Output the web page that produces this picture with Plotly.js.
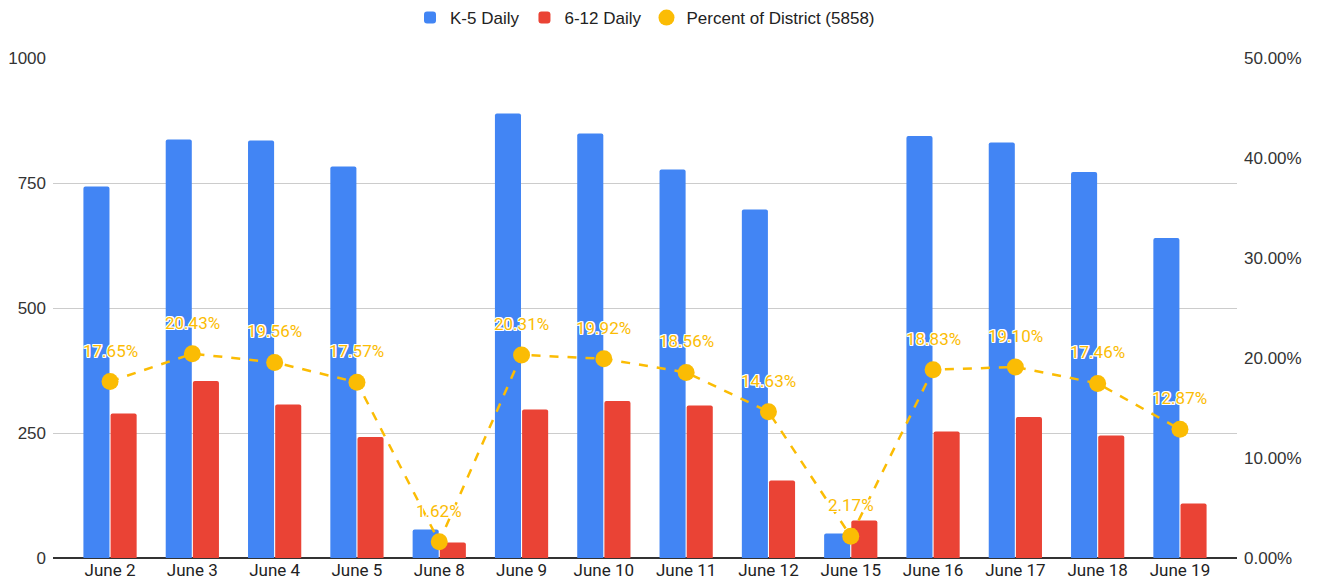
<!DOCTYPE html>
<html>
<head>
<meta charset="utf-8">
<script src="https://cdn.plot.ly/plotly-3.0.1.min.js"></script>
<style>html,body{margin:0;padding:0;background:#fff;}#chart{width:1317px;height:587px;}</style>
</head>
<body>
<div id="chart"></div>
<script>
const categories = ["June 2","June 3","June 4","June 5","June 8","June 9","June 10","June 11","June 12","June 15","June 16","June 17","June 18","June 19"];
const k5Daily = [743, 837, 835, 783, 57, 889, 849, 777, 697, 49, 844, 831, 772, 640];
const g612Daily = [289, 354, 307, 242, 31, 297, 314, 305, 155, 75, 253, 282, 245, 109];
const percentOfDistrict = [0.1765, 0.2043, 0.1956, 0.1757, 0.0162, 0.2031, 0.1992, 0.1856, 0.1463, 0.0217, 0.1883, 0.1910, 0.1746, 0.1287];
const leftTicks = [0, 250, 500, 750, 1000];
const rightTicks = [0, 0.1, 0.2, 0.3, 0.4, 0.5];

const BLUE = '#4285f4', RED = '#ea4335', YELLOW = '#fbbc04';
const FONT = 'Arial, "Liberation Sans", sans-serif';

const traces = [
  {type:'bar', name:'K-5 Daily', x:categories, y:k5Daily, marker:{color:BLUE}, hoverinfo:'skip'},
  {type:'bar', name:'6-12 Daily', x:categories, y:g612Daily, marker:{color:RED}, hoverinfo:'skip'},
  {type:'scatter', mode:'lines', name:'Percent line', x:categories, y:percentOfDistrict, yaxis:'y2',
   line:{color:YELLOW, width:2.5, dash:'dash'}, showlegend:false, hoverinfo:'skip'},
  {type:'scatter', mode:'markers', name:'Percent of District (5858)', x:categories, y:percentOfDistrict, yaxis:'y2',
   marker:{color:YELLOW, size:17}, hoverinfo:'skip'}
];

const halo = '1px 1px 0 #fff, -1px -1px 0 #fff, 1px -1px 0 #fff, -1px 1px 0 #fff, 0 1px 0 #fff, 0 -1px 0 #fff, 1px 0 0 #fff, -1px 0 0 #fff';
const annotations = categories.map((c, i) => ({
  x: c, y: percentOfDistrict[i], xref:'x', yref:'y2',
  text: (percentOfDistrict[i]*100).toFixed(2) + '%',
  showarrow:false, yshift:31,
  font:{family:'Roboto, Arial, sans-serif', size:17, color:YELLOW, shadow: halo}
}));

const layout = {
  width:1317, height:587,
  margin:{l:53, r:80, t:58, b:29},
  paper_bgcolor:'#fff', plot_bgcolor:'#fff',
  font:{family:FONT, size:17, color:'#333'},
  barmode:'group', bargap:0.34, bargroupgap:0.04, barcornerradius:2,
  showlegend:true,
  legend:{orientation:'h', x:0.5, xanchor:'center', y:1.0, yref:'container', yanchor:'top',
          font:{family:FONT, size:17, color:'#222'}, itemwidth:30, traceorder:'normal'},
  xaxis:{type:'category', range:[-0.693, 13.693], showgrid:false, showline:false, zeroline:false,
         ticks:'', tickfont:{family:'Roboto, Arial, sans-serif', size:17, color:'#222'}, fixedrange:true},
  yaxis:{range:[0,1000], tickvals:leftTicks, showgrid:true, gridcolor:'#cccccc', gridwidth:1,
         zeroline:true, zerolinecolor:'#333', zerolinewidth:1.3, showline:false, ticks:'',
         tickfont:{family:FONT, size:17, color:'#333'}, ticklabelstandoff:6},
  yaxis2:{range:[0,0.5], tickvals:rightTicks, tickformat:'.2%', overlaying:'y', side:'right',
          showgrid:false, zeroline:false, showline:false, ticks:'',
          tickfont:{family:FONT, size:17, color:'#333'}, ticklabelstandoff:6},
  annotations: annotations
};

Plotly.newPlot('chart', traces, layout, {displayModeBar:false, staticPlot:true});
</script>
</body>
</html>
